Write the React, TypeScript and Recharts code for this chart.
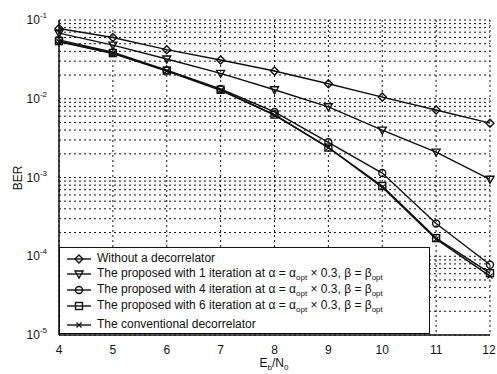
import React from "react";
import {
  LineChart,
  Line,
  XAxis,
  YAxis,
  CartesianGrid,
} from "recharts";

const ebn0 = [4, 5, 6, 7, 8, 9, 10, 11, 12];
const berNoDecorr = [0.078, 0.06, 0.042, 0.031, 0.0225, 0.0155, 0.0105, 0.0072, 0.0049];
const berIter1 = [0.068, 0.048, 0.032, 0.021, 0.013, 0.0079, 0.004, 0.0021, 0.00095];
const berIter4 = [0.056, 0.039, 0.023, 0.0133, 0.0068, 0.0028, 0.00114, 0.00026, 0.000078];
const berIter6 = [0.054, 0.038, 0.0228, 0.013, 0.0063, 0.0024, 0.00078, 0.00017, 0.000061];
const berConv = [0.053, 0.0375, 0.0225, 0.0128, 0.0062, 0.0024, 0.00075, 0.000165, 0.000056];

const xTicks = [4, 5, 6, 7, 8, 9, 10, 11, 12];
const decadeTicks = [1e-5, 1e-4, 1e-3, 1e-2, 1e-1];
const decadeExp = ["-5", "-4", "-3", "-2", "-1"];

// minor ticks 2..9 of each decade, for the grid
const yTicks: number[] = [];
decadeTicks.forEach((d, i) => {
  yTicks.push(d);
  if (i < decadeTicks.length - 1) {
    for (let m = 2; m <= 9; m++) yTicks.push(Number((d * m).toPrecision(3)));
  }
});

const data = ebn0.map((x, i) => ({
  x,
  none: berNoDecorr[i],
  it1: berIter1[i],
  it4: berIter4[i],
  it6: berIter6[i],
  conv: berConv[i],
}));

const FONT = "'Liberation Sans', Arial, sans-serif";
const INK = "#111";

type MarkerKind = "diamond" | "triangle" | "circle" | "square" | "star";

function Marker({ kind, cx, cy }: { kind: MarkerKind; cx: number; cy: number }) {
  const s = 4;
  const common = { fill: "none", stroke: INK, strokeWidth: 1.4 };
  if (kind === "diamond")
    return <polygon points={`${cx},${cy - s} ${cx + s},${cy} ${cx},${cy + s} ${cx - s},${cy}`} {...common} />;
  if (kind === "triangle")
    return <polygon points={`${cx - s},${cy - s + 1} ${cx + s},${cy - s + 1} ${cx},${cy + s}`} {...common} />;
  if (kind === "circle") return <circle cx={cx} cy={cy} r={s - 0.5} {...common} />;
  if (kind === "square")
    return <rect x={cx - s + 0.5} y={cy - s + 0.5} width={2 * s - 1} height={2 * s - 1} {...common} />;
  return (
    <g stroke={INK} strokeWidth={1.2}>
      <line x1={cx - 2.5} y1={cy - 2.5} x2={cx + 2.5} y2={cy + 2.5} />
      <line x1={cx - 2.5} y1={cy + 2.5} x2={cx + 2.5} y2={cy - 2.5} />
    </g>
  );
}

const dotFor = (kind: MarkerKind) => (p: any) =>
  <Marker key={`${kind}-${p.index}`} kind={kind} cx={p.cx} cy={p.cy} />;

function YTick(props: any) {
  const { x, y, payload } = props;
  const idx = decadeTicks.findIndex((d) => Math.abs(d - payload.value) / d < 1e-6);
  if (idx < 0) return null;
  return (
    <text x={x - 4} y={y + 4} textAnchor="end" fontFamily={FONT} fontSize={12} fill={INK}>
      10
      <tspan dy={-6} fontSize={8}>{decadeExp[idx]}</tspan>
    </text>
  );
}

function XTick(props: any) {
  const { x, y, payload } = props;
  return (
    <text x={x} y={y + 11} textAnchor="middle" fontFamily={FONT} fontSize={12} fill={INK}>
      {payload.value}
    </text>
  );
}

const Sub = ({ children }: { children: React.ReactNode }) => (
  <span style={{ fontSize: 8, verticalAlign: -3 }}>{children}</span>
);

const Param = () => (
  <>
    {" at α = α"}
    <Sub>opt</Sub>
    {" × 0.3, β = β"}
    <Sub>opt</Sub>
  </>
);

const legendRows: { kind: MarkerKind; label: React.ReactNode; top: number }[] = [
  { kind: "diamond", label: "Without a decorrelator", top: 4 },
  { kind: "triangle", label: <>The proposed with 1 iteration<Param /></>, top: 19 },
  { kind: "circle", label: <>The proposed with 4 iteration<Param /></>, top: 35 },
  { kind: "square", label: <>The proposed with 6 iteration<Param /></>, top: 51 },
  { kind: "star", label: "The conventional decorrelator", top: 70 },
];

export default function App() {
  return (
    <div style={{ position: "absolute", left: 0, top: 0, width: 497, height: 374, background: "#fff" }}>
      <LineChart
        width={497}
        height={374}
        data={data}
        margin={{ top: 20, right: 7, bottom: 0, left: 0 }}
      >
        <CartesianGrid stroke={INK} strokeDasharray="2 3" strokeWidth={1} />
        <XAxis
          dataKey="x"
          type="number"
          domain={[4, 12]}
          ticks={xTicks}
          height={39}
          tick={<XTick />}
          tickLine={false}
          axisLine={{ stroke: INK, strokeWidth: 1.5 }}
        />
        <XAxis xAxisId="top" orientation="top" dataKey="x" type="number" domain={[4, 12]} height={0} tick={false} tickLine={false} axisLine={{ stroke: INK, strokeWidth: 1.5 }} />
        <YAxis
          type="number"
          scale="log"
          domain={[1e-5, 1e-1]}
          allowDataOverflow
          ticks={yTicks}
          interval={0}
          width={59}
          tick={<YTick />}
          tickLine={false}
          axisLine={{ stroke: INK, strokeWidth: 1.5 }}
        />
        <YAxis yAxisId="right" orientation="right" scale="log" domain={[1e-5, 1e-1]} width={0} tick={false} tickLine={false} axisLine={{ stroke: INK, strokeWidth: 1.5 }} />
        <Line dataKey="none" stroke={INK} strokeWidth={1.4} dot={dotFor("diamond")} isAnimationActive={false} />
        <Line dataKey="it1" stroke={INK} strokeWidth={1.4} dot={dotFor("triangle")} isAnimationActive={false} />
        <Line dataKey="it4" stroke={INK} strokeWidth={1.4} dot={dotFor("circle")} isAnimationActive={false} />
        <Line dataKey="it6" stroke={INK} strokeWidth={1.4} dot={dotFor("square")} isAnimationActive={false} />
        <Line dataKey="conv" stroke={INK} strokeWidth={1.4} dot={dotFor("star")} isAnimationActive={false} />
      </LineChart>

      <div
        style={{
          position: "absolute",
          left: 18,
          top: 178,
          transform: "translate(-50%, -50%) rotate(-90deg)",
          fontFamily: FONT,
          fontSize: 12,
          color: INK,
        }}
      >
        BER
      </div>
      <div
        style={{
          position: "absolute",
          left: 274,
          top: 356,
          transform: "translateX(-50%)",
          fontFamily: FONT,
          fontSize: 12,
          lineHeight: "14px",
          color: INK,
          whiteSpace: "nowrap",
        }}
      >
        E<Sub>b</Sub>/N<Sub>0</Sub>
      </div>

      <div
        style={{
          position: "absolute",
          left: 59,
          top: 247,
          width: 371,
          height: 87,
          border: `1.5px solid ${INK}`,
          boxSizing: "border-box",
          background: "#fff",
          fontFamily: FONT,
          fontSize: 12,
          color: INK,
        }}
      >
        {legendRows.map((r) => (
          <div key={r.kind} style={{ position: "absolute", left: 0, top: r.top, height: 14, whiteSpace: "nowrap" }}>
            <svg width={32} height={14} style={{ position: "absolute", left: 5, top: 0 }}>
              <line x1={2} y1={7} x2={26} y2={7} stroke={INK} strokeWidth={1.4} />
              <Marker kind={r.kind} cx={14} cy={7} />
            </svg>
            <span style={{ position: "absolute", left: 37, top: -1, lineHeight: "14px" }}>{r.label}</span>
          </div>
        ))}
      </div>
    </div>
  );
}
